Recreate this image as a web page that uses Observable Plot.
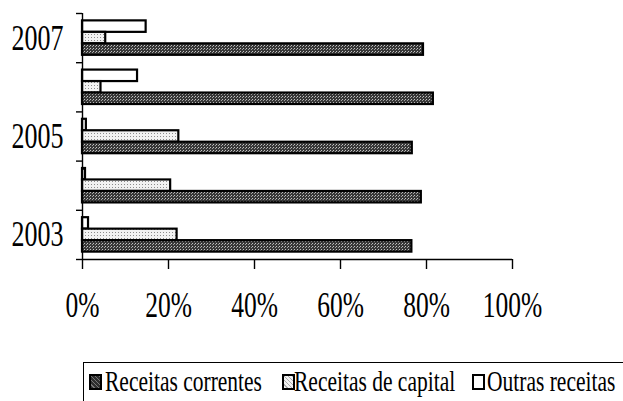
<!DOCTYPE html>
<html><head><meta charset="utf-8">
<script src="https://cdn.jsdelivr.net/npm/d3@7"></script>
<script src="https://cdn.jsdelivr.net/npm/@observablehq/plot@0.6"></script>
<style>
body{margin:0;background:#fff;font-family:"Liberation Serif","Times New Roman",serif;color:#000;}
#legend{position:relative;margin-left:83px;margin-top:27px;height:40px;border-left:1.5px solid #000;border-top:1.5px solid #000;font-size:21.5px;white-space:nowrap;}
#legend .sw{position:absolute;top:11px;width:9px;height:12px;border:2px solid #000;box-sizing:content-box;}
#legend .tx{position:absolute;top:11px;line-height:21px;display:inline-block;transform:scaleY(1.38);transform-origin:0 17.8px;}
</style></head><body>
<div id="chart"></div>
<div id="legend"></div>
<script>
const years = ["2003","2004","2005","2006","2007"];
const yearLabels = ["2003","2005","2007"];
const correntes = [76.6, 78.8, 76.7, 81.6, 79.3];
const capital   = [22.0, 20.5, 22.4, 4.3, 5.4];
const outras    = [1.4, 0.7, 0.9, 12.8, 14.8];
const xTicks = [0, 20, 40, 60, 80, 100];
const seriesNames = ["Receitas correntes", "Receitas de capital", "Outras receitas"];

// top-to-bottom order inside each year group: Outras, Capital, Correntes
const order = [outras, capital, correntes];
const orderNames = ["Outras receitas", "Receitas de capital", "Receitas correntes"];
const fills = {"Receitas correntes": "url(#pc)", "Receitas de capital": "url(#pk)", "Outras receitas": "#ffffff"};

const rows = [];
years.forEach((y, k) => order.forEach((arr, s) => rows.push({year: y, k, s, series: orderNames[s], value: arr[k]})));

const bh = 0.7 / 3;
const boundaries = d3.range(years.length + 1).map(i => i - 0.5);

const chart = Plot.plot({
  width: 623, height: 335,
  marginLeft: 82, marginRight: 111, marginTop: 13, marginBottom: 76,
  style: {fontFamily: "Liberation Serif, Times New Roman, serif", background: "#fff", color: "#000"},
  x: {domain: [0, 100]},
  y: {domain: [-0.5, years.length - 0.5]},
  color: {type: "identity"},
  marks: [
    Plot.rect(rows, {x1: 0, x2: "value", y1: d => d.k + 0.35 - (d.s + 1) * bh, y2: d => d.k + 0.35 - d.s * bh,
      fill: d => fills[d.series], stroke: "#000", strokeWidth: 2.2}),
    Plot.axisX({ticks: xTicks, tickFormat: d => d + "%", tickSize: 10, tickPadding: 23, fontSize: 25.5, strokeWidth: 1.4, label: null}),
    Plot.axisY({ticks: boundaries, tickSize: 6, tickFormat: () => "", strokeWidth: 1.4, label: null}),
    Plot.axisY({ticks: yearLabels.map(y => years.indexOf(y)), tickSize: 0, tickPadding: 19, tickFormat: i => years[i], fontSize: 26, label: null}),
    Plot.ruleX([0], {stroke: "#000", strokeWidth: 1.4}),
    Plot.ruleY([-0.5], {stroke: "#000", strokeWidth: 1.4})
  ]
});

// patterns
const defs = d3.select(chart).insert("defs", ":first-child");
const p1 = defs.append("pattern").attr("id", "pc").attr("patternUnits", "userSpaceOnUse").attr("width", 3).attr("height", 3);
p1.append("rect").attr("width", 3).attr("height", 3).attr("fill", "#383838");
p1.append("rect").attr("x", 0).attr("y", 0).attr("width", 1).attr("height", 1).attr("fill", "#c4c4c4");
p1.append("rect").attr("x", 2).attr("y", 1).attr("width", 1).attr("height", 1).attr("fill", "#a0a0a0");
const p2 = defs.append("pattern").attr("id", "pk").attr("patternUnits", "userSpaceOnUse").attr("width", 3).attr("height", 3);
p2.append("rect").attr("width", 3).attr("height", 3).attr("fill", "#f2f2f2");
p2.append("rect").attr("x", 1).attr("y", 1).attr("width", 1).attr("height", 1).attr("fill", "#8c8c8c");

// vertical stretch of scanned-looking text
chart.querySelectorAll("text").forEach(t => {
  const tr = t.getAttribute("transform");
  if (tr) t.setAttribute("transform", tr + " scale(1,1.38)");
});
document.getElementById("chart").appendChild(chart);

// legend
const lg = document.getElementById("legend");
const swX = [5, 198, 388];
const txX = [21, 210, 403];
const swBg = {"Receitas correntes": "repeating-linear-gradient(45deg,#2e2e2e 0 2px,#777 2px 3px)", "Receitas de capital": "repeating-linear-gradient(45deg,#f2f2f2 0 2px,#aaa 2px 3px)", "Outras receitas": "#fff"};
seriesNames.forEach((n, i) => {
  const sw = document.createElement("span");
  sw.className = "sw"; sw.style.left = swX[i] + "px"; sw.style.background = swBg[n];
  lg.appendChild(sw);
  const tx = document.createElement("span");
  tx.className = "tx"; tx.style.left = txX[i] + "px"; tx.textContent = n;
  lg.appendChild(tx);
});
</script>
</body></html>
